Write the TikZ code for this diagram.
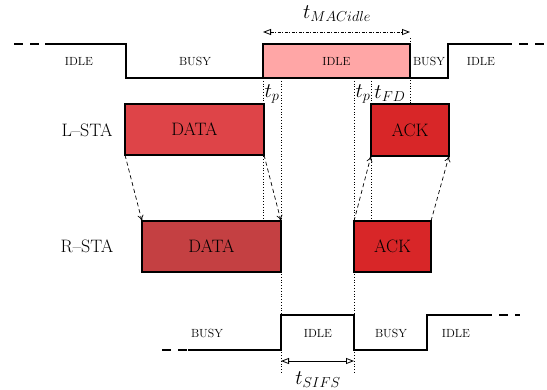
\documentclass[tikz,border=0pt]{standalone}
\usetikzlibrary{arrows.meta}
\definecolor{idlepink}{RGB}{255,166,166}
\definecolor{dataL}{RGB}{222,68,72}
\definecolor{dataR}{RGB}{196,64,66}
\definecolor{ackred}{RGB}{216,38,40}
\tikzset{
  sig/.style={line width=1.1pt, line join=miter},
  sigdash/.style={line width=1.1pt, dash pattern=on 9pt off 7pt},
  state/.style={font=\fontsize{11.8}{13}\selectfont, inner sep=0pt},
  sta/.style={font=\fontsize{18}{21}\selectfont, inner sep=0pt},
  frame/.style={draw=black, line width=2.4pt, inner sep=0pt, outer sep=0pt, anchor=north west,
    font=\fontsize{18}{21}\selectfont},
  prop/.style={line width=0.7pt, dash pattern=on 4pt off 3pt, -{To[length=6pt,width=6pt]}},
  guide/.style={line width=0.8pt, dotted},
  span/.style={line width=0.8pt, {Triangle[open,length=8pt,width=6pt]}-{Triangle[open,length=8pt,width=6pt]}},
  tlabel/.style={font=\fontsize{20}{23}\selectfont, inner sep=0pt},
}
\begin{document}
\begin{tikzpicture}[x=1pt,y=-1pt]
\useasboundingbox (0,0) rectangle (547,390);

% timing guides (drawn first, frames cover them)
\coordinate (g1a) at (263,78);  \coordinate (g1b) at (263,221);
\coordinate (g2a) at (281,78);  \coordinate (g2b) at (281,373);
\coordinate (g3a) at (354,78);  \coordinate (g3b) at (354,373);
\coordinate (g4a) at (371,78);  \coordinate (g4b) at (371,221);
\coordinate (g5a) at (410,38);  \coordinate (g5b) at (410,104);
\draw[guide] (g1a) -- (g1b);
\draw[guide] (g2a) -- (g2b);
\draw[guide] (g3a) -- (g3b);
\draw[guide] (g4a) -- (g4b);
\draw[guide] (g5a) -- (g5b);

% medium state seen by the left station
\node[draw=black, line width=1.1pt, fill=idlepink, inner sep=0pt, outer sep=0pt, anchor=north west,
      minimum width=147pt, minimum height=34pt] (idle) at (263,44) {};
\coordinate (a0) at (14,44);
\coordinate (a1) at (45,44);
\coordinate (a2) at (126,44);
\coordinate (a3) at (126,78);
\coordinate (a4) at (448,78);
\coordinate (a5) at (448,44);
\coordinate (a6) at (503,44);
\coordinate (a7) at (547,44);
\draw[sigdash] (a0) -- (a1);
\draw[sig] (a1) -- (a2) -- (a3) -- (idle.south west);
\draw[sig] (idle.south east) -- (a4) -- (a5) -- (a6);
\draw[sigdash] (a6) -- (a7);
\node[state] (s1) at (79,61) {IDLE};
\node[state] (s2) at (195,61) {BUSY};
\node[state] (s3) at (idle.center) {IDLE};
\node[state] (s4) at (429,61) {BUSY};
\node[state] (s5) at (481,61) {IDLE};

% frames
\node[sta] (lsta) at (87,130) {L--STA};
\node[sta] (rsta) at (87,246) {R--STA};
\node[frame, fill=dataL, minimum width=139pt, minimum height=51pt] (ldata) at (125,104) {DATA};
\node[frame, fill=ackred, minimum width=78pt, minimum height=52pt] (lack) at (371,104) {ACK};
\node[frame, fill=dataR, minimum width=139pt, minimum height=51pt] (rdata) at (142,221) {DATA};
\node[frame, fill=ackred, minimum width=77pt, minimum height=51pt] (rack) at (354,221) {ACK};

% propagation
\draw[prop] (ldata.south west) -- (rdata.north west);
\draw[prop] (ldata.south east) -- (rdata.north east);
\draw[prop] (rack.north west) -- (lack.south west);
\draw[prop] (rack.north east) -- (lack.south east);

\node[tlabel] (tp1) at (272,94) {$t_p$};
\node[tlabel] (tp2) at (363,94) {$t_p$};
\node[tlabel] (tfd) at (390,94) {$t_{FD}$};

% MAC idle span
\coordinate (m1) at (263,32);
\coordinate (m2) at (410,32);
\draw[span, dash pattern=on 3pt off 1.5pt on 1pt off 1.5pt] (m1) -- (m2);
\node[tlabel] (tmac) at (337,14) {$t_{MACidle}$};

% medium state seen by the right station
\coordinate (b0) at (162,350);
\coordinate (b1) at (188,350);
\coordinate (b2) at (281,350);
\coordinate (b3) at (281,315);
\coordinate (b4) at (354,315);
\coordinate (b5) at (354,350);
\coordinate (b6) at (427,350);
\coordinate (b7) at (427,315);
\coordinate (b8) at (483,315);
\coordinate (b9) at (520,315);
\draw[sigdash] (b0) -- (b1);
\draw[sig] (b1) -- (b2) -- (b3) -- (b4) -- (b5) -- (b6) -- (b7) -- (b8);
\draw[sigdash] (b8) -- (b9);
\node[state] (u1) at (207,333) {BUSY};
\node[state] (u2) at (318,333) {IDLE};
\node[state] (u3) at (391,333) {BUSY};
\node[state] (u4) at (456,333) {IDLE};

% SIFS span
\coordinate (c1) at (281,361);
\coordinate (c2) at (354,361);
\draw[span] (c1) -- (c2);
\node[tlabel] (tsifs) at (318,380) {$t_{SIFS}$};
\end{tikzpicture}
\end{document}
